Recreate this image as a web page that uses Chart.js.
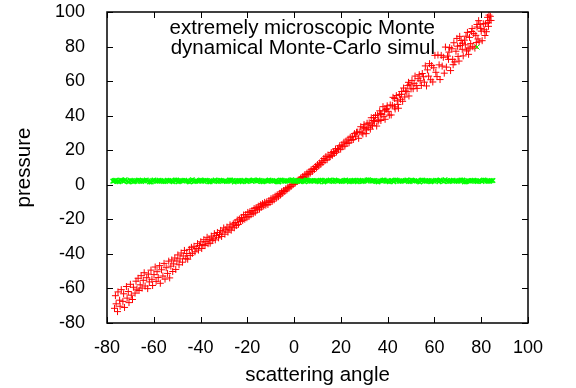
<!DOCTYPE html>
<html>
<head>
<meta charset="utf-8">
<script src="https://cdn.jsdelivr.net/npm/chart.js@4/dist/chart.umd.min.js"></script>
<style>
  html, body { margin: 0; padding: 0; background: #fff; }
  #wrap { width: 576px; height: 388px; }
</style>
</head>
<body>
<div id="wrap"><canvas id="chart" width="576" height="388"></canvas></div>
<script>
// 凡例の名前
const seriesNames = ['extremely microscopic Monte', 'dynamical Monte-Carlo simul'];

// 目盛り
const xTicks = [-80, -60, -40, -20, 0, 20, 40, 60, 80, 100];
const yTicks = [-80, -60, -40, -20, 0, 20, 40, 60, 80, 100];

// 赤: [scattering angle, pressure]
const redPoints = [
  [-76.8,-71.5],[-76.4,-64.2],[-76.1,-68.9],[-75.5,-73.4],[-75.3,-62.0],[-74.6,-66.8],[-74.4,-70.3],[-73.9,-60.7],[-73.2,-67.5],[-72.9,-63.1],
  [-72.5,-71.0],[-71.7,-58.9],[-71.4,-65.6],[-70.9,-61.8],[-70.6,-68.2],[-70.0,-57.6],[-69.6,-63.9],[-69.1,-66.4],[-68.7,-59.3],[-68.0,-62.7],
  [-67.6,-55.8],[-67.2,-60.4],
  [-66.7,-54.1],[-66.3,-61.2],[-65.8,-57.9],[-65.4,-52.6],[-65.0,-59.8],[-64.5,-55.3],[-64.1,-50.9],[-63.7,-58.6],[-63.0,-53.8],[-62.6,-60.1],
  [-62.3,-51.7],[-61.9,-56.2],[-61.2,-49.4],[-60.8,-54.7],[-60.5,-58.3],[-59.9,-52.0],[-59.4,-47.6],[-59.0,-55.9],[-58.6,-50.3],[-58.1,-53.7],
  [-57.5,-46.8],[-57.2,-57.0],[-56.7,-49.2],[-56.1,-52.8],[-55.6,-45.5],[-55.2,-54.6],[-54.7,-48.0],[-54.1,-51.3],[-53.6,-44.2],[-53.2,-53.9],
  [-52.7,-47.1],[-52.3,-43.5],[-51.9,-50.2],
  [-51.5,-45.8],[-51.0,-42.4],[-50.6,-49.0],[-50.1,-44.1],[-49.7,-40.6],[-49.2,-46.3],[-48.8,-42.9],[-48.3,-39.5],[-47.7,-44.8],[-47.4,-41.2],
  [-46.9,-38.0],[-46.3,-42.6],[-45.9,-39.8],[-45.5,-43.1],[-44.8,-37.4],[-44.4,-40.9],[-43.9,-36.2],[-43.5,-39.7],[-42.8,-35.6],[-42.4,-38.8],
  [-41.9,-36.9],[-41.3,-34.1],[-40.9,-37.8],[-40.4,-35.2],
  [-39.9,-33.0],[-39.5,-36.9],[-39.0,-34.6],[-38.6,-31.8],[-38.1,-35.2],[-37.7,-32.9],[-37.2,-30.4],[-36.8,-34.1],[-36.3,-31.6],[-35.9,-33.8],
  [-35.4,-29.7],[-35.0,-32.3],[-34.6,-30.9],[-34.1,-28.3],[-33.7,-31.9],[-33.2,-29.4],[-32.8,-27.6],[-32.3,-30.7],[-31.9,-28.8],[-31.4,-26.4],
  [-31.0,-29.9],[-30.5,-27.3],[-30.1,-25.0],[-29.6,-28.6],[-29.2,-26.1],[-28.7,-24.5],[-28.3,-27.4],[-27.8,-25.6],[-27.4,-23.2],[-26.9,-26.3],
  [-26.5,-24.4],[-26.0,-22.6],
  [-25.6,-24.9],[-25.2,-21.8],[-24.7,-23.6],[-24.3,-20.4],[-23.8,-22.9],[-23.4,-19.8],[-22.9,-21.3],[-22.5,-18.9],[-22.0,-20.6],[-21.6,-17.5],
  [-21.1,-19.9],[-20.7,-17.2],[-20.2,-19.1],[-19.8,-16.0],[-19.3,-18.4],[-18.9,-15.6],[-18.4,-17.3],[-18.0,-14.9],[-17.5,-16.7],[-17.1,-13.8],
  [-16.6,-15.9],[-16.2,-13.2],[-15.7,-14.6],[-15.3,-12.4],[-14.8,-14.1],[-14.4,-11.6],[-13.9,-13.0],[-13.5,-10.9],[-13.0,-12.3],[-12.6,-10.2],
  [-12.1,-11.8],
  [-11.7,-9.9],[-11.2,-11.4],[-10.8,-9.2],[-10.3,-10.3],[-9.9,-8.1],[-9.4,-9.6],[-9.0,-7.5],[-8.5,-8.7],[-8.1,-6.6],[-7.6,-7.7],
  [-7.2,-5.8],[-6.7,-6.9],[-6.3,-5.0],[-5.8,-5.9],[-5.4,-4.1],[-4.9,-4.9],[-4.5,-3.3],[-4.0,-3.9],[-3.6,-2.4],[-3.1,-3.0],
  [-2.7,-1.6],[-2.2,-2.0],[-1.8,-0.7],[-1.3,-1.0],[-0.9,0.2],[-0.4,0.1],[0.0,1.1],[0.5,1.0],[0.9,2.0],[1.4,1.9],
  [1.8,2.8],[2.3,2.6],
  [2.8,3.9],[3.3,3.4],[3.7,4.8],[4.2,4.2],[4.6,5.9],[5.1,5.1],[5.5,6.7],[6.0,6.0],[6.4,7.6],[6.9,6.8],
  [7.3,8.7],[7.8,7.7],[8.2,9.5],[8.7,8.9],[9.1,10.6],[9.6,9.8],[10.0,11.7],[10.5,10.9],[10.9,12.6],[11.4,11.8],
  [11.8,13.9],
  [12.3,12.9],[12.7,15.2],[13.2,14.0],[13.6,16.3],[14.1,14.5],[14.5,17.2],[15.0,15.9],[15.4,16.4],[15.9,18.6],[16.3,17.0],
  [16.8,19.2],[17.2,18.1],[17.7,20.7],[18.1,18.9],[18.6,21.0],[19.0,20.3],[19.5,22.6],[19.9,20.6],[20.4,23.1],[20.8,22.0],
  [21.3,24.6],[21.7,22.4],[22.2,25.3],[22.6,23.9],[23.1,26.4],[23.5,24.3],[24.0,27.5],[24.4,25.7],[24.9,28.1],[25.3,26.2],
  [25.8,29.6],[26.2,27.8],[26.7,30.4],
  [27.2,30.5],[27.6,26.9],[28.1,30.6],[28.5,33.6],[29.0,30.1],[29.4,29.4],[29.9,34.8],[30.3,32.7],[30.8,29.6],[31.2,35.6],
  [31.7,33.3],[32.1,35.8],[32.6,32.2],[33.0,38.8],[33.5,34.2],[33.9,37.2],[34.4,36.7],[34.8,40.1],[35.3,34.0],[35.7,40.4],
  [36.2,37.6],[36.6,42.8],[37.1,37.2],[37.5,40.7],[38.0,45.2],[38.4,39.4],[38.9,37.9],[39.3,43.6],[39.8,45.7],[40.2,42.5],
  [40.7,40.3],[31.0,31.8],[34.0,38.9],[36.9,41.3],[39.6,44.0],[29.6,33.0],[32.9,34.6],[35.9,36.8],[38.7,42.8],
  [41.1,46.2],[41.5,40.4],[42.0,46.0],[42.3,50.6],[42.9,45.1],[43.2,43.9],[43.7,51.6],[44.1,48.6],[44.6,44.3],[45.0,52.2],
  [45.5,49.5],[45.9,52.4],[46.4,48.3],[46.8,56.0],[47.3,50.8],[47.7,54.3],[48.2,53.9],[48.6,57.4],[49.1,51.4],[49.5,57.9],
  [50.0,55.5],[50.4,60.4],[50.9,55.6],[43.0,49.9],[46.0,54.0],[48.9,59.3],[44.4,46.5],
  [51.3,58.7],[51.7,62.9],[52.2,57.4],[52.6,55.8],[53.0,61.4],[53.5,63.7],[53.9,60.2],[54.4,57.5],[54.8,64.4],[55.3,62.5],
  [55.7,59.4],[56.1,68.8],[56.6,57.2],[57.0,66.5],[57.5,62.9],[57.9,70.1],[58.4,60.8],[58.8,69.0],[59.3,59.5],[59.7,67.7],
  [60.2,74.9],[60.6,65.1],[61.1,62.6],[61.5,75.1],[62.0,69.4],[62.4,60.9],[62.9,74.9],[63.3,68.7],[63.8,73.8],[64.2,64.6],
  [64.7,79.7],
  [65.1,68.1],[65.6,74.5],[66.0,72.6],[66.5,79.4],[66.9,66.1],[67.4,78.7],[67.8,72.6],[68.3,82.2],[68.7,71.1],[69.2,77.3],
  [69.6,84.7],[70.1,74.3],[70.5,71.6],[71.0,80.6],[71.4,83.5],[71.9,78.4],[72.3,74.6],[72.8,83.7],[73.2,81.0],[73.7,77.5],
  [74.1,88.2],[74.6,75.5],[75.0,85.3],[75.5,81.7],[75.9,88.7],[76.4,79.9],[76.8,87.5],[77.3,79.1],[77.7,86.5],[78.2,92.8],
  [78.6,84.4],[79.1,82.7],[79.5,92.9],[80.0,88.9],[80.4,83.4],[80.9,93.2],[81.3,89.7],[81.8,93.2],[82.2,88.6],[82.7,96.9],
  [83.1,91.7],[83.5,95.1],[83.9,97.5],[84.2,95.1],
  [66.2,76.8],[68.0,69.5],[70.8,85.9],[72.0,81.9],[74.4,78.6],[76.1,90.4],[77.9,82.3],[79.8,90.5],[81.6,86.4],[82.9,94.0],
  [83.3,98.2],[69.9,80.2],[73.5,86.0],[75.2,79.2],[78.9,95.0]
];

// 緑: [scattering angle, pressure]
const greenPoints = [
  [-77.5,2.1],[-76.3,2.6],[-74.9,1.8],[-73.4,2.4],[-72.2,2.9],[-70.8,1.7],[-69.3,2.3],[-68.1,2.0],[-66.5,2.7],[-65.2,1.9],
  [-63.9,2.5],[-62.6,2.2],[-61.1,1.6],[-59.9,2.8],[-58.4,2.1],[-57.0,2.4],[-55.8,1.9],[-54.3,2.6],[-52.9,2.3],[-51.7,1.8],
  [-50.2,2.7],[-48.8,2.0],[-47.6,2.5],[-46.1,2.2],[-44.7,1.7],[-43.5,2.9],[-42.0,2.1],[-40.6,2.4],[-39.4,2.0],[-37.9,2.6],
  [-36.5,1.8],[-35.3,2.3],[-33.8,2.8],[-32.4,1.9],[-31.1,2.5],[-29.8,2.2],[-28.3,2.0],[-27.1,2.7],[-25.6,1.6],[-24.2,2.4],
  [-23.0,2.1],[-21.5,2.6],[-20.1,1.9],[-18.9,2.3],[-17.4,2.8],[-16.0,2.0],[-14.8,2.5],[-13.3,1.8],[-11.9,2.2],[-10.7,2.7],
  [-9.2,2.1],[-7.8,2.4],[-6.6,1.7],[-5.1,2.6],[-3.7,2.0],[-2.5,2.3],[-1.0,2.9],[0.4,1.9],[1.6,2.5],[3.1,2.2],
  [4.5,1.8],[5.7,2.7],[7.2,2.1],[8.6,2.4],[9.8,2.0],[11.3,2.6],[12.7,1.7],[13.9,2.3],[15.4,2.8],[16.8,1.9],
  [18.0,2.5],[19.5,2.2],[20.9,2.0],[22.1,2.7],[23.6,1.8],[25.0,2.4],[26.2,2.1],[27.7,2.6],[29.1,1.9],[30.3,2.3],
  [31.8,2.9],[33.2,2.0],[34.4,2.5],[35.9,1.7],[37.3,2.2],[38.5,2.7],[40.0,2.1],[41.4,2.4],[42.6,1.8],[44.1,2.6],
  [45.5,2.0],[46.7,2.3],[48.2,2.8],[49.6,1.9],[50.8,2.5],[52.3,2.2],[53.7,1.6],[54.9,2.7],[56.4,2.1],[57.8,2.4],
  [59.0,2.0],[60.5,2.6],[61.9,1.8],[63.1,2.3],[64.6,2.9],[66.0,1.9],[67.2,2.5],[68.7,2.2],[70.1,2.0],[71.3,2.7],
  [72.8,1.7],[74.2,2.4],[75.4,2.1],[76.9,2.6],[78.3,1.9],[79.5,2.3],[81.0,2.8],[82.4,2.2],[83.6,2.0],[85.0,2.5],
  [-76.9,2.4],[-75.6,1.9],[-74.2,2.7],[-72.8,2.0],[-71.5,2.2],[-70.0,2.6],[-68.7,1.8],[-67.3,2.5],[-65.9,2.1],[-64.5,2.3],
  [-63.2,2.8],[-61.8,1.7],[-60.5,2.4],[-59.1,2.0],[-57.7,2.6],[-56.4,2.2],[-55.0,1.9],[-53.6,2.5],[-52.3,2.1],[-50.9,2.7],
  [-49.5,1.8],[-48.2,2.3],[-46.8,2.6],[-45.4,2.0],[-44.1,2.4],[-42.7,1.9],[-41.3,2.2],[-40.0,2.8],[-38.6,2.1],[-37.2,2.5],
  [-35.9,1.8],[-34.5,2.3],[-33.1,2.0],[-31.8,2.6],[-30.4,2.2],[-29.0,1.9],[-27.7,2.7],[-26.3,2.4],[-24.9,2.1],[-23.6,2.5],
  [-22.2,1.8],[-20.8,2.2],[-19.5,2.6],[-18.1,2.0],[-16.7,2.3],[-15.4,2.8],[-14.0,1.9],[-12.6,2.4],[-11.3,2.1],[-9.9,2.5],
  [-8.5,2.2],[-7.2,1.8],[-5.8,2.7],[-4.4,2.0],[-3.1,2.3],[-1.7,2.6],[-0.3,2.1],[1.0,2.4],[2.4,1.9],[3.8,2.2],
  [5.1,2.8],[6.5,2.0],[7.9,2.5],[9.2,2.3],[10.6,1.8],[12.0,2.6],[13.3,2.1],[14.7,2.4],[16.1,2.0],[17.4,2.7],
  [18.8,2.2],[20.2,1.9],[21.5,2.5],[22.9,2.3],[24.3,2.1],[25.6,2.6],[27.0,1.8],[28.4,2.4],[29.7,2.0],[31.1,2.7],
  [32.5,2.2],[33.8,2.5],[35.2,1.9],[36.6,2.3],[37.9,2.6],[39.3,2.1],[40.7,1.8],[42.0,2.4],[43.4,2.8],[44.8,2.0],
  [46.1,2.2],[47.5,2.5],[48.9,1.9],[50.2,2.7],[51.6,2.3],[53.0,2.1],[54.3,2.6],[55.7,2.0],[57.1,2.4],[58.4,1.8],
  [59.8,2.2],[61.2,2.5],[62.5,2.8],[63.9,1.9],[65.3,2.3],[66.6,2.1],[68.0,2.6],[69.4,2.0],[70.7,2.4],[72.1,2.7],
  [73.5,1.8],[74.8,2.2],[76.2,2.5],[77.6,2.1],[78.9,2.3],[80.3,1.9],[81.7,2.6],[83.0,2.0],[84.3,2.4]
];

const FONT = 'Liberation Sans, Arial, Helvetica, sans-serif';

// 枠と内向きの目盛り、凡例
const framePlugin = {
  id: 'frame',
  afterDatasetsDraw(chart) {
    const { ctx, chartArea: a, scales: { x, y } } = chart;
    ctx.save();
    ctx.strokeStyle = '#000';
    ctx.lineWidth = 1;
    ctx.beginPath();
    xTicks.forEach(v => {
      const px = Math.round(x.getPixelForValue(v)) + 0.5;
      ctx.moveTo(px, a.bottom); ctx.lineTo(px, a.bottom - 6);
      ctx.moveTo(px, a.top); ctx.lineTo(px, a.top + 6);
    });
    yTicks.forEach(v => {
      const py = Math.round(y.getPixelForValue(v)) + 0.5;
      ctx.moveTo(a.left, py); ctx.lineTo(a.left + 6, py);
      ctx.moveTo(a.right, py); ctx.lineTo(a.right - 6, py);
    });
    ctx.stroke();
    ctx.lineWidth = 1.5;
    ctx.strokeRect(a.left, a.top, a.right - a.left, a.bottom - a.top);

    // 凡例
    ctx.fillStyle = '#000';
    ctx.font = '20.5px ' + FONT;
    ctx.textAlign = 'right';
    ctx.textBaseline = 'alphabetic';
    const textRight = a.right - 93;
    const sampleX = a.right - 51;
    seriesNames.forEach((name, i) => {
      const base = a.top + 22 + i * 20;
      ctx.fillText(name, textRight, base);
      const cy = base - 7;
      ctx.beginPath();
      if (i === 0) {
        ctx.strokeStyle = '#ff0000';
        ctx.moveTo(sampleX - 3.5, cy); ctx.lineTo(sampleX + 3.5, cy);
        ctx.moveTo(sampleX, cy - 3.5); ctx.lineTo(sampleX, cy + 3.5);
      } else {
        ctx.strokeStyle = '#00ff00';
        ctx.moveTo(sampleX - 2.5, cy - 2.5); ctx.lineTo(sampleX + 2.5, cy + 2.5);
        ctx.moveTo(sampleX - 2.5, cy + 2.5); ctx.lineTo(sampleX + 2.5, cy - 2.5);
      }
      ctx.lineWidth = 1;
      ctx.stroke();
    });
    ctx.restore();
  }
};

const chart = new Chart(document.getElementById('chart').getContext('2d'), {
  type: 'scatter',
  data: {
    datasets: [
      {
        label: seriesNames[0],
        data: redPoints.map(p => ({ x: p[0], y: p[1] })),
        pointStyle: 'cross',
        pointRadius: 3.5,
        borderColor: '#ff0000',
        backgroundColor: '#ff0000',
        borderWidth: 1,
        order: 2
      },
      {
        label: seriesNames[1],
        data: greenPoints.map(p => ({ x: p[0], y: p[1] })),
        pointStyle: 'crossRot',
        pointRadius: 3.2,
        borderColor: '#00ff00',
        backgroundColor: '#00ff00',
        borderWidth: 1.5,
        order: 1
      }
    ]
  },
  options: {
    responsive: false,
    animation: false,
    events: [],
    layout: { padding: { top: 12, right: 48, left: 0, bottom: 0 } },
    plugins: {
      legend: { display: false },
      tooltip: { enabled: false }
    },
    scales: {
      x: {
        type: 'linear',
        min: -80,
        max: 100,
        afterFit: s => { s.height = 65; s.paddingLeft = 0; s.paddingRight = 0; },
        grid: { display: false },
        border: { display: false },
        ticks: {
          stepSize: 20,
          autoSkip: false,
          maxRotation: 0,
          padding: 6,
          color: '#000',
          font: { family: FONT, size: 18 }
        },
        title: {
          display: true,
          text: 'scattering angle',
          color: '#000',
          font: { family: FONT, size: 20.5 },
          padding: { top: 0, bottom: 0 }
        }
      },
      y: {
        type: 'linear',
        min: -80,
        max: 100,
        afterFit: s => { s.width = 107; s.paddingTop = 0; s.paddingBottom = 0; },
        grid: { display: false },
        border: { display: false },
        ticks: {
          stepSize: 20,
          autoSkip: false,
          padding: 14,
          color: '#000',
          font: { family: FONT, size: 18 }
        },
        title: {
          display: true,
          text: 'pressure',
          color: '#000',
          font: { family: FONT, size: 20.5 },
          padding: { top: 12, bottom: 0 }
        }
      }
    }
  },
  plugins: [framePlugin]
});
</script>
</body>
</html>
